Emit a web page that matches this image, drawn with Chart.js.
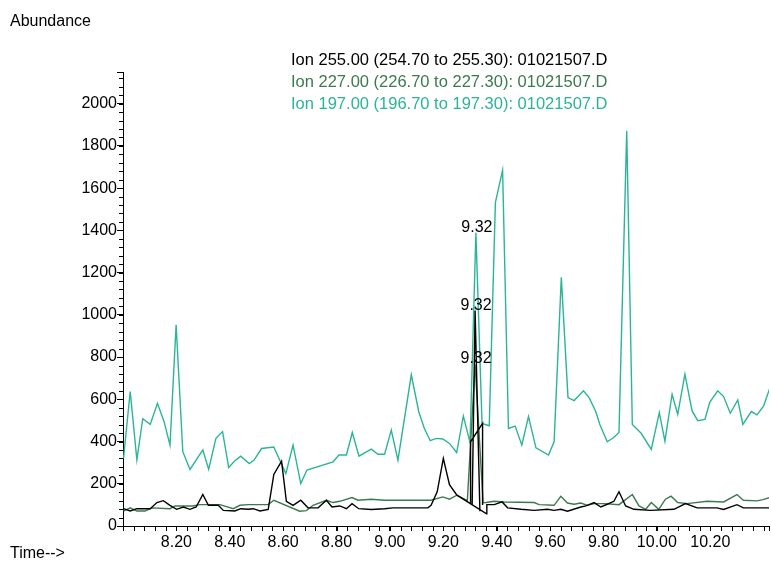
<!DOCTYPE html>
<html>
<head>
<meta charset="utf-8">
<script src="https://cdn.jsdelivr.net/npm/chart.js@4"></script>
<style>
  body { margin: 0; background: #fff; }
  canvas { display: block; }
</style>
</head>
<body>
<canvas id="myChart" width="771" height="561"></canvas>
<script>
// Ion 255 (black) - null values break the line where the detector trace jumps
const t255 = [8.002, 8.027, 8.052, 8.102, 8.127, 8.151, 8.176, 8.201, 8.226, 8.251, 8.274, 8.299, 8.320, 8.357, 8.376,
  8.419, 8.441, 8.469, 8.488, 8.513, 8.544, 8.565, 8.594, 8.612, 8.637, 8.666, 8.693, 8.731, 8.762, 8.783, 8.812,
  8.837, 8.858, 8.883, 8.930, 8.980, 9.011, 9.142, 9.154, 9.177, 9.200, 9.223, 9.251, 9.362, 9.363, 9.391, 9.420,
  9.441, 9.491, 9.540, 9.590, 9.615, 9.640, 9.665, 9.715, 9.734, 9.765, 9.790, 9.814, 9.839, 9.858, 9.883, 9.914,
  9.976, 10.064, 10.107, 10.151, 10.225, 10.250, 10.300, 10.324, 10.422,
  10.422, 9.302, 9.302, 9.347, 9.347,
  9.347, 9.308, 9.319, 9.337];
const v255 = [82, 71, 82, 82, 111, 120, 98, 79, 90, 79, 90, 149, 98, 98, 74,
  71, 82, 79, 82, 71, 79, 244, 307, 117, 98, 122, 86, 86, 122, 90, 95,
  82, 106, 82, 78, 82, 86, 86, 98, 162, 320, 196, 146, 58, 101, 101, 114,
  86, 79, 74, 79, 74, 79, 70, 90, 95, 111, 90, 103, 117, 162, 95, 79,
  74, 79, 106, 86, 86, 78, 101, 86, 86,
  null, 106, 399, 486, 100,
  null, 100, 1020, 70];

// Ion 227 (dark green)
const t227 = [8.002, 8.027, 8.052, 8.083, 8.108, 8.176, 8.195, 8.261, 8.288, 8.363, 8.413, 8.438, 8.469, 8.544, 8.565,
  8.662, 8.687, 8.712, 8.762, 8.787, 8.812, 8.858, 8.880, 8.930, 8.980, 9.154, 9.198, 9.223, 9.251, 9.290, 9.319,
  9.349, 9.360, 9.391, 9.428, 9.540, 9.559, 9.615, 9.640, 9.665, 9.690, 9.715, 9.740, 9.765, 9.802, 9.858, 9.908,
  9.933, 9.958, 9.979, 10.007, 10.032, 10.053, 10.078, 10.113, 10.188, 10.250, 10.300, 10.324, 10.375, 10.397, 10.422];
const v227 = [70, 86, 71, 71, 86, 82, 95, 95, 101, 101, 82, 98, 101, 101, 122,
  70, 73, 98, 122, 111, 117, 135, 122, 127, 122, 122, 138, 127, 146, 120, 765,
  110, 111, 117, 114, 111, 101, 98, 141, 109, 103, 109, 98, 106, 106, 101, 149,
  95, 79, 111, 79, 127, 141, 111, 106, 117, 114, 149, 122, 119, 125, 135];

// Ion 197 (teal)
const t197 = [8.002, 8.027, 8.052, 8.074, 8.102, 8.129, 8.154, 8.176, 8.199, 8.224, 8.251, 8.299, 8.321, 8.348, 8.373,
  8.396, 8.419, 8.441, 8.473, 8.491, 8.519, 8.565, 8.610, 8.637, 8.666, 8.689, 8.787, 8.809, 8.837, 8.859, 8.884,
  8.930, 8.955, 8.980, 9.005, 9.030, 9.080, 9.108, 9.129, 9.151, 9.173, 9.198, 9.223, 9.250, 9.275, 9.300, 9.322,
  9.345, 9.372, 9.395, 9.422, 9.444, 9.469, 9.494, 9.519, 9.547, 9.594, 9.615, 9.642, 9.667, 9.690, 9.725, 9.746,
  9.771, 9.787, 9.814, 9.837, 9.858, 9.887, 9.908, 9.941, 9.979, 10.009, 10.030, 10.057, 10.078, 10.105, 10.132,
  10.153, 10.180, 10.198, 10.228, 10.250, 10.275, 10.303, 10.322, 10.354, 10.375, 10.400, 10.422];
const v197 = [320, 637, 313, 508, 481, 581, 494, 383, 953, 352, 268, 360, 268, 415, 447,
  277, 309, 331, 296, 312, 367, 374, 248, 383, 201, 265, 304, 336, 336, 443, 331,
  364, 340, 340, 454, 312, 716, 541, 462, 404, 415, 412, 391, 348, 521, 396, 1389,
  486, 475, 1531, 1685, 462, 473, 383, 518, 370, 336, 399, 1178, 608, 594, 640, 608,
  542, 478, 399, 418, 443, 1872, 481, 439, 363, 537, 402, 624, 529, 719, 545,
  499, 505, 586, 640, 613, 534, 597, 481, 542, 526, 569, 649];

const ionLabels = ["Ion 255.00 (254.70 to 255.30): 01021507.D",
  "Ion 227.00 (226.70 to 227.30): 01021507.D",
  "Ion 197.00 (196.70 to 197.30): 01021507.D"];
const ionColors = ["#000000", "#3b7a4e", "#2ab597"];
// retention time labels at the peak tops
const peakTimes = [9.322, 9.319, 9.319];
const peakValues = [1389, 1020, 765];
const peakText = ["9.32", "9.32", "9.32"];

const FONT = "'Liberation Sans', Arial, sans-serif";

function toPoints(ts, vs) {
  return ts.map((t, i) => ({ x: t, y: vs[i] }));
}

const extras = {
  id: "extras",
  afterDraw(chart) {
    const ctx = chart.ctx;
    const xs = chart.scales.x;
    const ys = chart.scales.y;
    ctx.save();
    ctx.strokeStyle = "#000";
    ctx.lineWidth = 1;
    ctx.beginPath();
    // minor ticks
    for (let v = 0; v <= ys.max; v += 40) {
      const y = Math.round(ys.getPixelForValue(v)) + 0.5;
      ctx.moveTo(xs.left - 4, y);
      ctx.lineTo(xs.left, y);
    }
    for (let k = 0; 8 + k * 0.04 <= xs.max; k++) {
      const x = Math.round(xs.getPixelForValue(8 + k * 0.04)) + 0.5;
      ctx.moveTo(x, ys.bottom);
      ctx.lineTo(x, ys.bottom + 5);
    }
    ctx.stroke();

    ctx.font = "16px " + FONT;
    ctx.fillStyle = "#000";
    ctx.textAlign = "left";
    ctx.textBaseline = "alphabetic";
    ctx.fillText("Abundance", 10, 26);
    ctx.fillText("Time-->", 10, 558);
    ctx.font = "16.5px " + FONT;
    ionLabels.forEach((s, i) => {
      ctx.fillStyle = ionColors[i];
      ctx.fillText(s, 291, 65 + i * 22);
    });

    ctx.font = "16px " + FONT;
    ctx.fillStyle = "#000";
    ctx.textAlign = "center";
    peakTimes.forEach((t, i) => {
      ctx.fillText(peakText[i], xs.getPixelForValue(t) + 1, ys.getPixelForValue(peakValues[i]) - 1);
    });
    ctx.restore();
  }
};

const ctx = document.getElementById("myChart").getContext("2d");
const myChart = new Chart(ctx, {
  type: "line",
  data: {
    datasets: [
      { label: "255", data: toPoints(t255, v255), borderColor: ionColors[0] },
      { label: "227", data: toPoints(t227, v227), borderColor: ionColors[1] },
      { label: "197", data: toPoints(t197, v197), borderColor: ionColors[2] }
    ]
  },
  options: {
    responsive: false,
    animation: false,
    parsing: false,
    elements: {
      line: { borderWidth: 1.4, tension: 0, fill: false },
      point: { radius: 0 }
    },
    layout: { padding: { top: 72, right: 0, left: 0, bottom: 0 } },
    plugins: {
      legend: { display: false },
      tooltip: { enabled: false }
    },
    scales: {
      x: {
        type: "linear",
        min: 8,
        max: 10.42,
        afterFit(s) { s.height = 35; },
        border: { color: "#000", width: 1 },
        grid: { drawOnChartArea: false, tickLength: 5, color: "#000" },
        ticks: {
          stepSize: 0.2,
          autoSkip: false,
          maxRotation: 0,
          padding: 2,
          color: "#000",
          font: { family: FONT, size: 16 },
          callback(v) {
            const r = Math.round(v * 100) / 100;
            if (r < 8.1 || r > 10.3 || Math.abs(r * 5 - Math.round(r * 5)) > 1e-6) return "";
            return r.toFixed(2);
          }
        }
      },
      y: {
        min: 0,
        max: 2150,
        afterFit(s) { s.width = 123; },
        border: { color: "#000", width: 1 },
        grid: { drawOnChartArea: false, tickLength: 6, color: "#000" },
        ticks: {
          stepSize: 200,
          padding: 0,
          color: "#000",
          font: { family: FONT, size: 16 },
          callback(v) { return v % 200 === 0 ? String(v) : ""; }
        }
      }
    }
  },
  plugins: [extras]
});
</script>
</body>
</html>
